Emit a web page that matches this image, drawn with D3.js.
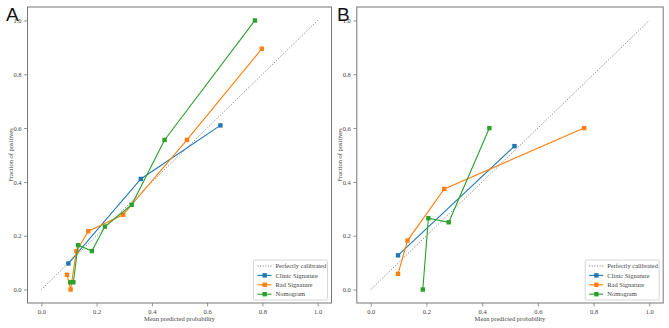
<!DOCTYPE html>
<html>
<head>
<meta charset="utf-8">
<script src="https://cdn.jsdelivr.net/npm/d3@7"></script>
<style>
  body { margin: 0; background: #fff; }
  svg text { font-family: "Liberation Serif", "Times New Roman", serif; fill: #444; }
  .letter { font-family: "Liberation Sans", Arial, sans-serif; fill: #111; }
</style>
</head>
<body>
<div id="chart"></div>
<script>
// calibration curves: [mean predicted, fraction positive]
const seriesNames = ["Clinic Signature", "Rad Signature", "Nomogram"];
const seriesColors = ["#1f77b4", "#ff7f0e", "#2ca02c"];
const tickValues = [0, 0.2, 0.4, 0.6, 0.8, 1.0];

const clinicA = [[0.098, 0.097], [0.360, 0.411], [0.648, 0.610]];
const radA = [[0.093, 0.055], [0.106, 0.0], [0.127, 0.143], [0.170, 0.217],
  [0.296, 0.278], [0.527, 0.556], [0.798, 0.895]];
const nomoA = [[0.105, 0.027], [0.116, 0.027], [0.133, 0.165], [0.183, 0.143],
  [0.230, 0.234], [0.327, 0.315], [0.446, 0.556], [0.773, 1.0]];

const clinicB = [[0.098, 0.127], [0.516, 0.533]];
const radB = [[0.098, 0.058], [0.132, 0.182], [0.264, 0.374], [0.766, 0.600]];
const nomoB = [[0.187, 0.0], [0.207, 0.265], [0.280, 0.250], [0.426, 0.600]];

const svg = d3.select("#chart").append("svg")
  .attr("width", 669)
  .attr("height", 328);

function drawPanel(letter, left, right, series, letterX) {
  const top = 7, bottom = 303;
  const x = d3.scaleLinear().domain([-0.05, 1.05]).range([left, right]);
  const y = d3.scaleLinear().domain([-0.05, 1.05]).range([bottom, top]);
  const g = svg.append("g");

  // perfectly calibrated diagonal
  g.append("line")
    .attr("x1", x(0)).attr("y1", y(0))
    .attr("x2", x(1)).attr("y2", y(1))
    .attr("stroke", "#555")
    .attr("stroke-width", 0.8)
    .attr("stroke-dasharray", "1,1.6");

  const line = d3.line().x(d => x(d[0])).y(d => y(d[1]));
  series.forEach((pts, i) => {
    g.append("path")
      .attr("d", line(pts))
      .attr("fill", "none")
      .attr("stroke", seriesColors[i])
      .attr("stroke-width", 1.1);
    g.selectAll(null)
      .data(pts)
      .enter().append("rect")
      .attr("x", d => x(d[0]) - 2.2)
      .attr("y", d => y(d[1]) - 2.2)
      .attr("width", 4.4)
      .attr("height", 4.4)
      .attr("fill", seriesColors[i]);
  });

  const xAxis = g.append("g")
    .attr("transform", `translate(0,${bottom})`)
    .call(d3.axisBottom(x).tickValues(tickValues).tickFormat(d3.format(".1f")).tickSize(3.5).tickPadding(2.5));
  const yAxis = g.append("g")
    .attr("transform", `translate(${left},0)`)
    .call(d3.axisLeft(y).tickValues(tickValues).tickFormat(d3.format(".1f")).tickSize(3.5).tickPadding(2.5));
  [xAxis, yAxis].forEach(a => {
    a.select(".domain").remove();
    a.selectAll("line").attr("stroke", "#777").attr("stroke-width", 0.8);
    a.selectAll("text").style("font-size", "6.5px").attr("fill", "#444");
  });

  // frame
  g.append("rect")
    .attr("x", left).attr("y", top)
    .attr("width", right - left).attr("height", bottom - top)
    .attr("fill", "none")
    .attr("stroke", "#777")
    .attr("stroke-width", 1);

  g.append("text")
    .attr("x", x(0.5)).attr("y", 321)
    .attr("text-anchor", "middle")
    .style("font-size", "6.5px")
    .text("Mean predicted probability");

  g.append("text")
    .attr("transform", `translate(${left - 15},${y(0.5)}) rotate(-90)`)
    .attr("text-anchor", "middle")
    .style("font-size", "6.5px")
    .text("Fraction of positives");

  g.append("text")
    .attr("class", "letter")
    .attr("x", letterX).attr("y", 21)
    .style("font-size", "19px")
    .text(letter);

  // legend
  const lw = 74, lh = 40;
  const lx = right - 4 - lw, ly = bottom - 3 - lh;
  const lg = g.append("g").attr("transform", `translate(${lx},${ly})`);
  lg.append("rect")
    .attr("width", lw).attr("height", lh)
    .attr("fill", "#fff")
    .attr("stroke", "#ccc")
    .attr("stroke-width", 0.8)
    .attr("rx", 1.5);
  const entries = ["Perfectly calibrated"].concat(seriesNames);
  entries.forEach((name, i) => {
    const yy = 6 + i * 9.4;
    if (i === 0) {
      lg.append("line")
        .attr("x1", 4).attr("x2", 18).attr("y1", yy).attr("y2", yy)
        .attr("stroke", "#555").attr("stroke-width", 0.8)
        .attr("stroke-dasharray", "1,1.6");
    } else {
      lg.append("line")
        .attr("x1", 4).attr("x2", 18).attr("y1", yy).attr("y2", yy)
        .attr("stroke", seriesColors[i - 1]).attr("stroke-width", 1.1);
      lg.append("rect")
        .attr("x", 9).attr("y", yy - 2.2).attr("width", 4.4).attr("height", 4.4)
        .attr("fill", seriesColors[i - 1]);
    }
    lg.append("text")
      .attr("x", 22).attr("y", yy + 2.2)
      .style("font-size", "6.5px")
      .text(name);
  });
}

drawPanel("A", 27.5, 331.5, [clinicA, radA, nomoA], 6);
drawPanel("B", 356.8, 663.2, [clinicB, radB, nomoB], 337);
</script>
</body>
</html>
